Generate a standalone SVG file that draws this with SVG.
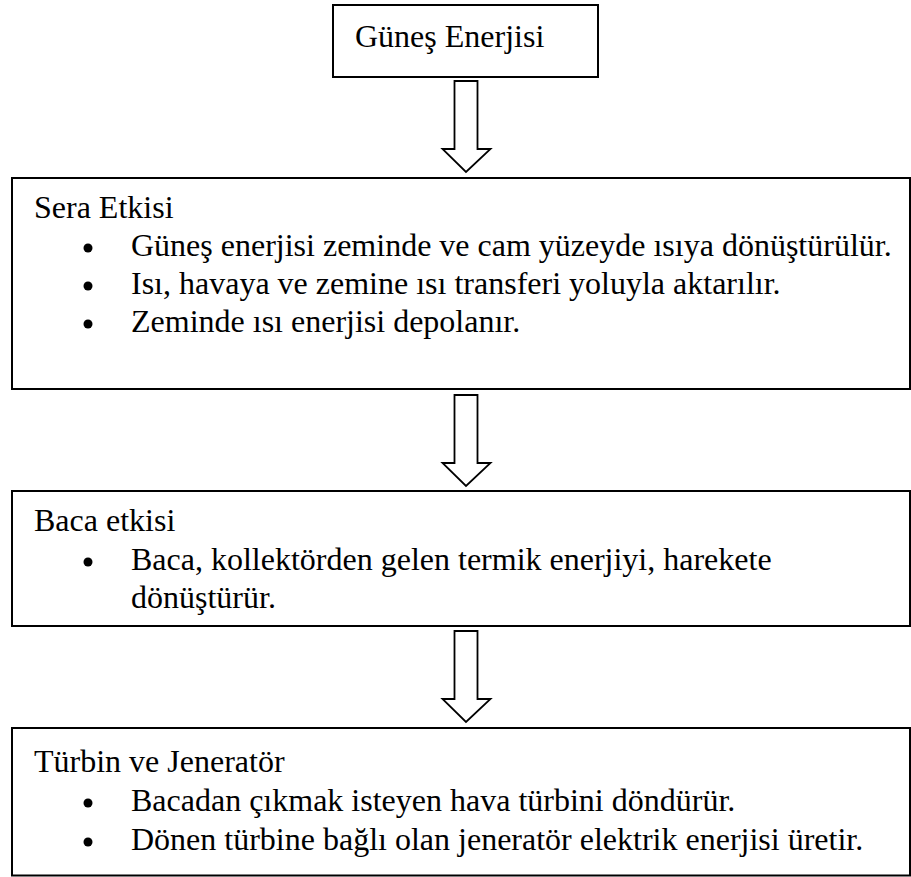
<svg xmlns="http://www.w3.org/2000/svg" width="911" height="877" viewBox="0 0 911 877">
  <style>
    .box { fill: #ffffff; stroke: #000000; stroke-width: 2; }
    .arrow { fill: #ffffff; stroke: #000000; stroke-width: 1.8; stroke-linejoin: miter; }
    .dot { fill: #000000; }
    .txt { font-family: 'Liberation Serif', 'Times New Roman', serif; font-size: 32px; fill: #000000; }
  </style>
  <rect x="0" y="0" width="911" height="877" fill="#ffffff"/>

  <!-- hollow block arrows between stages -->
  <g id="connectors">
    <polygon class="arrow" points="454.5,81 477.5,81 477.5,149 490.5,149 466,172 442.5,149 454.5,149"/>
    <polygon class="arrow" points="454.5,395 477.5,395 477.5,463 490.5,463 466,486 442.5,463 454.5,463"/>
    <polygon class="arrow" points="454.5,631 477.5,631 477.5,699 490.5,699 466,722 442.5,699 454.5,699"/>
  </g>

  <g id="gunes-enerjisi">
    <rect class="box" x="333" y="5" width="265" height="72"/>
    <text class="txt" x="355" y="47">Güneş Enerjisi</text>
  </g>

  <g id="sera-etkisi">
    <rect class="box" x="12" y="178" width="898" height="211"/>
    <text class="txt" x="34" y="218">Sera Etkisi</text>
    <circle class="dot" cx="88" cy="248" r="4.5"/>
    <text class="txt" x="131" y="256">Güneş enerjisi zeminde ve cam yüzeyde ısıya dönüştürülür.</text>
    <circle class="dot" cx="88" cy="286" r="4.5"/>
    <text class="txt" x="131" y="294">Isı, havaya ve zemine ısı transferi yoluyla aktarılır.</text>
    <circle class="dot" cx="88" cy="324" r="4.5"/>
    <text class="txt" x="131" y="332">Zeminde ısı enerjisi depolanır.</text>
  </g>

  <g id="baca-etkisi">
    <rect class="box" x="12" y="491" width="898" height="135"/>
    <text class="txt" x="34" y="531">Baca etkisi</text>
    <circle class="dot" cx="88" cy="562" r="4.5"/>
    <text class="txt" x="131" y="570">Baca, kollektörden gelen termik enerjiyi, harekete</text>
    <text class="txt" x="131" y="608">dönüştürür.</text>
  </g>

  <g id="turbin-jenerator">
    <rect class="box" x="12" y="728" width="898" height="147.5"/>
    <text class="txt" x="34" y="772">Türbin ve Jeneratör</text>
    <circle class="dot" cx="88" cy="803" r="4.5"/>
    <text class="txt" x="131" y="811">Bacadan çıkmak isteyen hava türbini döndürür.</text>
    <circle class="dot" cx="88" cy="842" r="4.5"/>
    <text class="txt" x="131" y="850">Dönen türbine bağlı olan jeneratör elektrik enerjisi üretir.</text>
  </g>
</svg>
